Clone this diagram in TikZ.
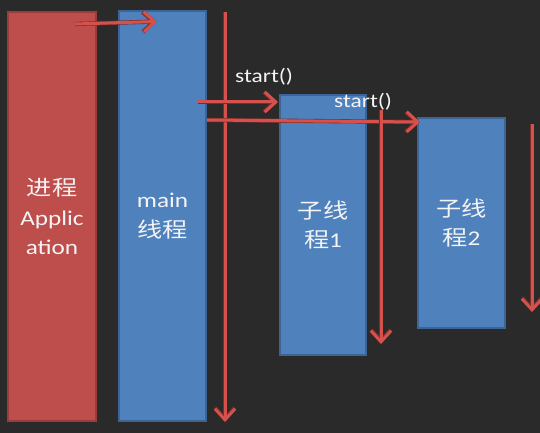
\documentclass[tikz,border=0pt]{standalone}
\usepackage{fontspec}
\setmainfont{Carlito}[FakeStretch=1.2]
\newfontfamily\cjk{Noto Sans CJK SC}[FakeStretch=1.2]
\usetikzlibrary{arrows.meta}
\definecolor{bg}{HTML}{2A2A2A}
\definecolor{pred}{HTML}{BD4E4B}
\definecolor{predd}{HTML}{9A3D3A}
\definecolor{pblue}{HTML}{4F81BD}
\definecolor{pblued}{HTML}{3B6597}
\definecolor{lred}{HTML}{D6504C}
\definecolor{lshadow}{HTML}{7A2E2C}
\definecolor{txt}{HTML}{F4F4F4}
\begin{document}
\begin{tikzpicture}[x=1pt,y=-1pt,
  box/.style={rectangle, line width=1.5pt, inner sep=0pt, align=center,
    text=txt, font=\fontsize{21}{29.5}\selectfont},
  redbox/.style={box, fill=pred, draw=predd},
  bluebox/.style={box, fill=pblue, draw=pblued},
  arr/.style={draw=lred, line width=3pt, -{Straight Barb[length=11pt,width=20pt]},
    preaction={draw=lshadow, line width=4.2pt, -{Straight Barb[length=11pt,width=20pt]}}},
  lbl/.style={text=txt, font=\fontsize{19.5}{22}\selectfont, inner sep=0pt, anchor=base west}]
\fill[bg] (0,0) rectangle (540,433);
\useasboundingbox (0,0) rectangle (540,433);

\node[redbox, minimum width=88pt, minimum height=409pt] (proc) at (52,216.5)
  {{\cjk 进程}\\Applic\\ation};
\node[bluebox, minimum width=87pt, minimum height=410pt] (main) at (162.5,216)
  {main\\{\cjk 线程}};
\node[bluebox, minimum width=86pt, minimum height=260pt] (sub1) at (323,225)
  {{\cjk 子线}\\{\cjk 程}1};
\node[bluebox, minimum width=87pt, minimum height=210pt] (sub2) at (461.5,223)
  {{\cjk 子线}\\{\cjk 程}2};

\node[lbl] (l1) at (235,83) {start()};
\node[lbl] (l2) at (334,108) {start()};

\coordinate (a1s) at (75,24);
\coordinate (a1e) at (157,21.5);
\coordinate (m1) at (225,12);
\coordinate (m2) at (225,422);
\coordinate (a2s) at (198,102);
\coordinate (a2e) at (278,102);
\coordinate (a3s) at (207,120);
\coordinate (a3e) at (420,122);
\coordinate (s1a) at (381,110);
\coordinate (s1b) at (381,344);
\coordinate (s2a) at (532,124);
\coordinate (s2b) at (532,312);

\draw[arr] (a1s) -- (a1e);
\draw[arr] (m1) -- (m2);
\draw[arr] (a2s) -- (a2e);
\draw[arr] (a3s) -- (a3e);
\draw[arr] (s1a) -- (s1b);
\draw[arr] (s2a) -- (s2b);
\end{tikzpicture}
\end{document}
